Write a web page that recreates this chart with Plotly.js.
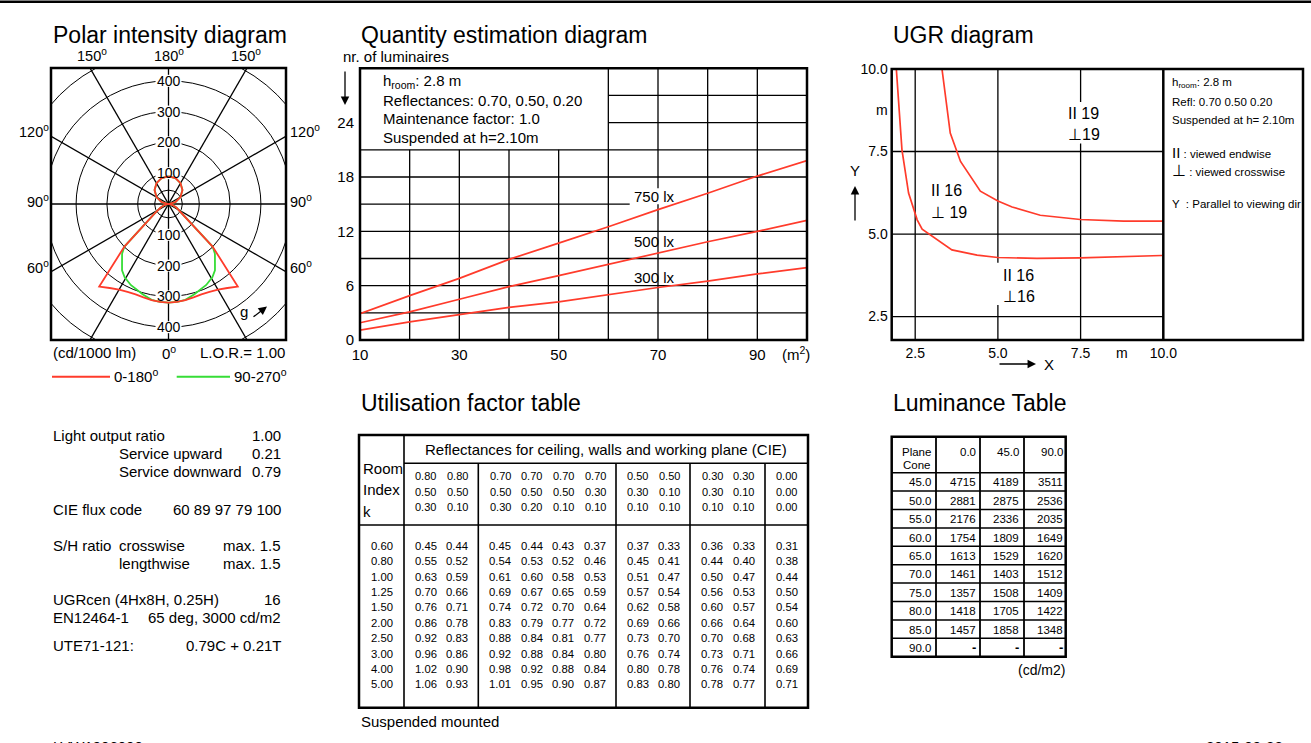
<!DOCTYPE html>
<html><head><meta charset="utf-8">
<script src="https://cdn.plot.ly/plotly-3.0.1.min.js"></script>
<style>html,body{margin:0;padding:0;background:#fff;overflow:hidden}#chart{width:1311px;height:743px}</style>
</head><body><div id="chart"></div>
<script>
// ---------------- DATA ----------------
// Polar intensity diagram (cd/1000 lm), gamma 0 = downward, 180 = upward
const redGamma     = [0, 5, 10, 15, 20, 25, 30, 35, 40, 46, 56, 65, 75, 90, 105, 120, 135, 150, 165, 180];
const redIntensity = [320, 319, 317, 314, 312, 315, 321, 333, 350, 199, 54, 29, 14, 0, 23, 45, 64, 78, 87, 90];
const greenGamma     = [0, 5, 10, 16, 25, 31, 35, 38, 43, 46, 56, 65, 75, 90, 105, 120, 135, 150, 165, 180];
const greenIntensity = [320, 319, 316, 305, 290, 277, 263, 245, 221, 199, 54, 29, 14, 0, 23, 45, 64, 78, 87, 90];
const polarRings = [45, 100, 200, 300, 400, 500];
const polarRingLabels = [100, 200, 300, 400];
const polarSpokes = [0, 30, 60, 90, 120, 150];

// Quantity estimation diagram
const areaM2 = [10, 20, 30, 40, 50, 60, 70, 80, 90, 100];
const lum750 = [2.9, 4.9, 6.8, 8.9, 10.7, 12.5, 14.4, 16.2, 18.1, 19.8];
const lum500 = [1.9, 3.1, 4.5, 5.9, 7.1, 8.35, 9.6, 10.85, 12.0, 13.2];
const lum300 = [1.1, 2.0, 2.8, 3.6, 4.2, 5.0, 5.8, 6.5, 7.3, 8.0];
const qtyXTicks = [10, 30, 50, 70, 90];
const qtyYTicks = [0, 6, 12, 18, 24];
const qtyLabels = ['750 lx', '500 lx', '300 lx'];
const qtyLabelY = [15.87, 10.85, 6.88];

// UGR diagram
const ugrLowX = [1.93, 2.1, 2.3, 2.56, 2.71, 3.61, 4.37, 5.0, 6.18, 7.49, 9.96];
const ugrLowY = [10.0, 7.55, 6.24, 5.43, 5.15, 4.52, 4.36, 4.29, 4.26, 4.28, 4.35];
const ugrHighX = [3.31, 3.56, 3.87, 4.47, 5.0, 5.43, 6.28, 7.49, 8.8, 9.96, 10.0];
const ugrHighY = [10.0, 8.06, 7.2, 6.3, 6.0, 5.82, 5.57, 5.44, 5.39, 5.39, 5.42];
const ugrTicks = [2.5, 5.0, 7.5, 8.75, 10.0];
const ugrTickText = ['2.5', '5.0', '7.5', 'm', '10.0'];

// Utilisation factor table
const roomIndex = ['0.60', '0.80', '1.00', '1.25', '1.50', '2.00', '2.50', '3.00', '4.00', '5.00'];
const reflCeiling = ['0.80', '0.80', '0.70', '0.70', '0.70', '0.70', '0.50', '0.50', '0.30', '0.30', '0.00'];
const reflWalls   = ['0.50', '0.50', '0.50', '0.50', '0.50', '0.30', '0.30', '0.10', '0.30', '0.10', '0.00'];
const reflPlane   = ['0.30', '0.10', '0.30', '0.20', '0.10', '0.10', '0.10', '0.10', '0.10', '0.10', '0.00'];
const utilisationFactors = [
  ['0.45','0.44','0.45','0.44','0.43','0.37','0.37','0.33','0.36','0.33','0.31'],
  ['0.55','0.52','0.54','0.53','0.52','0.46','0.45','0.41','0.44','0.40','0.38'],
  ['0.63','0.59','0.61','0.60','0.58','0.53','0.51','0.47','0.50','0.47','0.44'],
  ['0.70','0.66','0.69','0.67','0.65','0.59','0.57','0.54','0.56','0.53','0.50'],
  ['0.76','0.71','0.74','0.72','0.70','0.64','0.62','0.58','0.60','0.57','0.54'],
  ['0.86','0.78','0.83','0.79','0.77','0.72','0.69','0.66','0.66','0.64','0.60'],
  ['0.92','0.83','0.88','0.84','0.81','0.77','0.73','0.70','0.70','0.68','0.63'],
  ['0.96','0.86','0.92','0.88','0.84','0.80','0.76','0.74','0.73','0.71','0.66'],
  ['1.02','0.90','0.98','0.92','0.88','0.84','0.80','0.78','0.76','0.74','0.69'],
  ['1.06','0.93','1.01','0.95','0.90','0.87','0.83','0.80','0.78','0.77','0.71']
];

// Luminance table (cd/m2)
const lumPlanes = ['0.0', '45.0', '90.0'];
const lumCones = ['45.0', '50.0', '55.0', '60.0', '65.0', '70.0', '75.0', '80.0', '85.0', '90.0'];
const lumC0  = ['4715', '2881', '2176', '1754', '1613', '1461', '1357', '1418', '1457', '-'];
const lumC45 = ['4189', '2875', '2336', '1809', '1529', '1403', '1508', '1705', '1858', '-'];
const lumC90 = ['3511', '2536', '2035', '1649', '1620', '1512', '1409', '1422', '1348', '-'];

// Left info block
const infoLeft = [
  ['Light output ratio', 52, 435], ['Service upward', 118, 453], ['Service downward', 118, 471],
  ['CIE flux code', 52, 509], ['S/H ratio', 52, 545], ['crosswise', 118, 545], ['lengthwise', 118, 563],
  ['UGRcen (4Hx8H, 0.25H)', 52, 599], ['EN12464-1', 52, 617], ['UTE71-121:', 52, 645]
];
const infoRight = [
  ['1.00', 435], ['0.21', 453], ['0.79', 471], ['60 89 97 79 100', 509], ['max. 1.5', 545],
  ['max. 1.5', 563], ['16', 599], ['65 deg, 3000 cd/m2', 617], ['0.79C + 0.21T', 645]
];

// ---------------- HELPERS ----------------
const FONT = 'Liberation Sans, Arial, Helvetica, sans-serif';
const W = 1311, H = 743;
const RED = '#ff3b2b', GREEN = '#36dd36';
const X = v => v / W, Y = v => 1 - v / H;
const shapes = [], annotations = [];

function txt(x, y, text, size, anchor, extra) {
  annotations.push(Object.assign({
    xref: 'paper', yref: 'paper', x: X(x), y: Y(y), text: text, showarrow: false,
    xanchor: anchor || 'left', yanchor: 'middle', borderpad: 0,
    font: {family: FONT, size: size || 15, color: '#000'}
  }, extra || {}));
}
function pline(x0, y0, x1, y1, w, color) {
  shapes.push({type: 'line', xref: 'paper', yref: 'paper', x0: X(x0), y0: Y(y0), x1: X(x1), y1: Y(y1),
    line: {color: color || '#000', width: w}, layer: 'above'});
}
function prect(x0, y0, x1, y1, w) {
  shapes.push({type: 'rect', xref: 'paper', yref: 'paper', x0: X(x0), y0: Y(y0), x1: X(x1), y1: Y(y1),
    line: {color: '#000', width: w}, fillcolor: 'rgba(0,0,0,0)', layer: 'above'});
}
function dline(ax, x0, y0, x1, y1, w) {
  shapes.push({type: 'line', xref: 'x' + ax, yref: 'y' + ax, x0: x0, y0: y0, x1: x1, y1: y1,
    line: {color: '#000', width: w}, layer: 'below'});
}
function arrow(hx, hy, ax, ay) {
  annotations.push({xref: 'paper', yref: 'paper', x: X(hx), y: Y(hy), ax: ax, ay: ay, text: '',
    showarrow: true, arrowhead: 2, arrowsize: 1.3, arrowwidth: 1.3, arrowcolor: '#000'});
}

// ---------------- POLAR ----------------
function polarTrace(gam, inten, color) {
  const xs = [], ys = [];
  for (let i = gam.length - 1; i >= 0; i--) {
    const a = gam[i] * Math.PI / 180;
    xs.push(-inten[i] * Math.sin(a)); ys.push(-inten[i] * Math.cos(a));
  }
  for (let i = 1; i < gam.length; i++) {
    const a = gam[i] * Math.PI / 180;
    xs.push(inten[i] * Math.sin(a)); ys.push(-inten[i] * Math.cos(a));
  }
  return {type: 'scatter', mode: 'lines', x: xs, y: ys, xaxis: 'x', yaxis: 'y',
    line: {color: color, width: 1.8}, hoverinfo: 'skip'};
}
polarRings.forEach(r => shapes.push({type: 'circle', xref: 'x', yref: 'y', x0: -r, x1: r, y0: -r, y1: r,
  line: {color: '#000', width: 1}, layer: 'below'}));
polarSpokes.forEach(d => {
  const a = d * Math.PI / 180, L = 1000;
  shapes.push({type: 'line', xref: 'x', yref: 'y', x0: -L * Math.sin(a), y0: -L * Math.cos(a),
    x1: L * Math.sin(a), y1: L * Math.cos(a), line: {color: '#000', width: 1.3}, layer: 'below'});
});
polarRingLabels.forEach(r => {
  [r, -r].forEach(v => {
    shapes.push({type: 'rect', xref: 'x', yref: 'y', xsizemode: 'pixel', ysizemode: 'pixel',
      xanchor: 0, yanchor: v, x0: -13, x1: 13, y0: -6, y1: 6, fillcolor: '#fff', line: {width: 0}, layer: 'below'});
    annotations.push({xref: 'x', yref: 'y', x: 0, y: v, text: String(r), showarrow: false,
      xanchor: 'center', yanchor: 'middle', font: {family: FONT, size: 14, color: '#000'}});
  });
});
prect(51, 68, 286, 340, 2.5);
txt(52, 35.5, 'Polar intensity diagram', 23);
txt(92, 55, '150<sup>o</sup>', 14.5, 'center');
txt(169, 55, '180<sup>o</sup>', 14.5, 'center');
txt(246, 55, '150<sup>o</sup>', 14.5, 'center');
txt(34, 131, '120<sup>o</sup>', 14.5, 'center');
txt(305, 131, '120<sup>o</sup>', 14.5, 'center');
txt(38, 201, '90<sup>o</sup>', 14.5, 'center');
txt(301, 201, '90<sup>o</sup>', 14.5, 'center');
txt(38, 267, '60<sup>o</sup>', 14.5, 'center');
txt(301, 267, '60<sup>o</sup>', 14.5, 'center');
txt(52, 352.5, '(cd/1000 lm)', 15);
txt(169, 352.5, '0<sup>o</sup>', 15, 'center');
txt(286, 352.5, 'L.O.R.= 1.00', 15, 'right');
pline(52, 376.7, 110, 376.7, 2, RED);
txt(113, 375, '0-180<sup>o</sup>', 15);
pline(176.7, 376.7, 230, 376.7, 2, GREEN);
txt(233, 375, '90-270<sup>o</sup>', 15);
txt(243.5, 312, 'g', 15, 'center');
arrow(267, 306.5, -15, 11.5);

// ---------------- QUANTITY ----------------
[20, 30, 40, 50].forEach(v => dline(2, v, 0, v, 21, 1.3));
[60, 80, 90].forEach(v => dline(2, v, 0, v, 30, 1.3));
dline(2, 70, 0, 70, 15, 1.3); dline(2, 70, 16.75, 70, 30, 1.3);
[3, 6, 9, 12, 18, 21].forEach(v => dline(2, 10, v, 100, v, 1.3));
dline(2, 10, 15, 64.3, 15, 1.3);
[24, 27].forEach(v => dline(2, 60, v, 100, v, 1.3));
prect(360, 68.3, 807, 340, 2.5);
txt(360, 35.5, 'Quantity estimation diagram', 23);
txt(342, 56, 'nr. of luminaires', 15);
arrow(345, 105, 0, -35);
txt(382, 82, 'h<sub>room</sub>: 2.8 m', 15);
txt(382, 100.5, 'Reflectances: 0.70, 0.50, 0.20', 15);
txt(382, 118.5, 'Maintenance factor: 1.0', 15);
txt(382, 137, 'Suspended at h=2.10m', 15);
qtyLabels.forEach((t, i) => annotations.push({xref: 'x2', yref: 'y2', x: 64.7, y: qtyLabelY[i], text: t,
  showarrow: false, xanchor: 'left', yanchor: 'middle', font: {family: FONT, size: 15, color: '#000'}}));

// ---------------- UGR ----------------
[2.5, 5.0, 7.5].forEach(v => dline(3, 1.79, v, 10, v, 1.3));
dline(3, 2.5, 1.79, 2.5, 10, 1.3);
dline(3, 5.0, 1.79, 5.0, 2.85, 1.3); dline(3, 5.0, 4.13, 5.0, 10, 1.3);
dline(3, 7.5, 1.79, 7.5, 7.74, 1.3); dline(3, 7.5, 9.0, 7.5, 10, 1.3);
prect(891.7, 69, 1303, 340, 2.5);
pline(1163.3, 69, 1163.3, 340, 2.5);
txt(892, 35.5, 'UGR diagram', 23);
txt(1066.5, 113, 'II 19', 16);
txt(1066.5, 134, '\u22A519', 16);
txt(929.5, 191, 'II 16', 16);
txt(929.5, 212, '\u22A5 19', 16);
txt(1001.5, 275, 'II 16', 16);
txt(1001.5, 296, '\u22A516', 16);
txt(1171, 83.3, 'h<sub>room</sub>: 2.8 m', 11.5);
txt(1171, 101.7, 'Refl: 0.70 0.50 0.20', 11.5);
txt(1171, 120, 'Suspended at h= 2.10m', 11.5);
txt(1171, 152.7, '<span style="font-size:15px">II</span> : viewed endwise', 11.5);
txt(1171, 171, '<span style="font-size:16px">\u22A5</span> : viewed crosswise', 11.5);
txt(1171, 204, 'Y  : Parallel to viewing dir', 11.5);
txt(855, 171, 'Y', 15, 'center');
arrow(855, 186, 0, 36);
txt(1049, 364, 'X', 15, 'center');
arrow(1036, 364, -38, 0);

// ---------------- UTILISATION TABLE ----------------
txt(360, 403, 'Utilisation factor table', 23);
prect(359, 435, 808, 707.7, 2.5);
pline(404, 435, 404, 707.7, 1.6);
pline(404, 463.3, 808, 463.3, 1.6);
pline(359, 525, 808, 525, 1.6);
[478.3, 616, 690, 765].forEach(v => pline(v, 463.3, v, 707.7, 1.6));
txt(605.5, 449, 'Reflectances for ceiling, walls and working plane (CIE)', 15, 'center');
txt(361.5, 468.3, 'Room', 15); txt(361.5, 490, 'Index', 15); txt(361.5, 511.7, 'k', 15);
const ufColX = [425.7, 457.3, 500, 531.7, 563.3, 595, 637.7, 669.3, 712.3, 744, 786.7];
[reflCeiling, reflWalls, reflPlane].forEach((row, r) => row.forEach((v, c) => txt(ufColX[c], 476 + r * 15.5, v, 11, 'center')));
roomIndex.forEach((k, r) => {
  const yy = 545.7 + r * 15.4;
  txt(381.7, yy, k, 11.3, 'center');
  utilisationFactors[r].forEach((v, c) => txt(ufColX[c], yy, v, 11.3, 'center'));
});
txt(360, 721, 'Suspended mounted', 15);

// ---------------- LUMINANCE TABLE ----------------
txt(892, 403, 'Luminance Table', 23);
prect(891.7, 436.7, 1065.7, 656.7, 2.5);
[936, 980, 1024].forEach(v => pline(v, 436.7, v, 656.7, 1.8));
for (let i = 0; i < 10; i++) { const yy = 472.7 + i * 18.4; pline(891.7, yy, 1065.7, yy, 1.5); }
const lumColR = [931.7, 976.7, 1020, 1064];
txt(lumColR[0], 451.7, 'Plane', 11.5, 'right');
txt(lumColR[0], 465.2, 'Cone', 11.5, 'right');
lumPlanes.forEach((p, i) => txt(lumColR[i + 1], 451.7, p, 11.5, 'right'));
lumCones.forEach((c, i) => {
  const yy = 482.3 + i * 18.4;
  txt(lumColR[0], yy, c, 11.5, 'right');
  [lumC0, lumC45, lumC90].forEach((col, j) => {
    const v = col[i];
    txt(lumColR[j + 1], yy, v === '-' ? '<b>-</b>' : v, v === '-' ? 13 : 11.5, 'right');
  });
});
txt(1066, 670, '(cd/m2)', 14, 'right');

// ---------------- LEFT INFO ----------------
infoLeft.forEach(([t, x, y]) => txt(x, y, t, 15));
infoRight.forEach(([t, y]) => txt(282, y, t, 15, 'right'));

// ---------------- PAGE ----------------
pline(0, 1.8, W, 1.8, 2.5);
annotations.push({xref: 'paper', yref: 'paper', x: X(51), y: Y(735.5), text: 'LVW1906000', showarrow: false,
  xanchor: 'left', yanchor: 'top', font: {family: FONT, size: 15, color: '#000'}});
annotations.push({xref: 'paper', yref: 'paper', x: X(1285), y: Y(735.5), text: '2015-09-22', showarrow: false,
  xanchor: 'right', yanchor: 'top', font: {family: FONT, size: 15, color: '#000'}});

// ---------------- TRACES ----------------
const qtyLine = (yv) => ({type: 'scatter', mode: 'lines', x: areaM2, y: yv, xaxis: 'x2', yaxis: 'y2',
  line: {color: RED, width: 1.7}, hoverinfo: 'skip'});
const traces = [
  polarTrace(greenGamma, greenIntensity, GREEN),
  polarTrace(redGamma, redIntensity, RED),
  qtyLine(lum750), qtyLine(lum500), qtyLine(lum300),
  {type: 'scatter', mode: 'lines', x: ugrLowX, y: ugrLowY, xaxis: 'x3', yaxis: 'y3', line: {color: RED, width: 1.7}, hoverinfo: 'skip'},
  {type: 'scatter', mode: 'lines', x: ugrHighX, y: ugrHighY, xaxis: 'x3', yaxis: 'y3', line: {color: RED, width: 1.7}, hoverinfo: 'skip'}
];

const noAx = {showgrid: false, zeroline: false, showticklabels: false, ticks: '', showline: false, fixedrange: true};
const layout = {
  width: W, height: H, margin: {l: 0, r: 0, t: 0, b: 0, pad: 0},
  paper_bgcolor: '#fff', plot_bgcolor: 'rgba(0,0,0,0)', showlegend: false,
  font: {family: FONT, color: '#000'},
  xaxis: Object.assign({}, noAx, {domain: [X(51), X(286)], range: [-381.5, 381.5], anchor: 'y'}),
  yaxis: Object.assign({}, noAx, {domain: [Y(340), Y(68)], range: [-441.6, 441.6], anchor: 'x'}),
  xaxis2: {domain: [X(360), X(807)], range: [10, 100], anchor: 'y2', showgrid: false, zeroline: false,
    showline: false, ticks: '', tickvals: qtyXTicks.concat([97.8]), ticktext: qtyXTicks.map(String).concat(['(m<sup>2</sup>)']),
    ticklabelstandoff: 4,
    tickfont: {family: FONT, size: 15, color: '#000'}, fixedrange: true},
  yaxis2: {domain: [Y(340), Y(68.3)], range: [0, 30], anchor: 'x2', showgrid: false, zeroline: false,
    showline: false, ticks: '', tickvals: qtyYTicks, ticktext: qtyYTicks.map(String), ticklabelstandoff: 5,
    tickfont: {family: FONT, size: 15, color: '#000'}, fixedrange: true},
  xaxis3: {domain: [X(891.7), X(1163.3)], range: [1.79, 10], anchor: 'y3', showgrid: false, zeroline: false,
    showline: false, ticks: '', tickvals: ugrTicks, ticktext: ugrTickText, ticklabelstandoff: 3,
    tickfont: {family: FONT, size: 14, color: '#000'}, fixedrange: true},
  yaxis3: {domain: [Y(340), Y(69)], range: [1.79, 10], anchor: 'x3', showgrid: false, zeroline: false,
    showline: false, ticks: '', tickvals: ugrTicks, ticktext: ugrTickText, ticklabelstandoff: 3,
    tickfont: {family: FONT, size: 14, color: '#000'}, fixedrange: true},
  shapes: shapes, annotations: annotations
};
Plotly.newPlot('chart', traces, layout, {displayModeBar: false, staticPlot: true});
</script></body></html>
